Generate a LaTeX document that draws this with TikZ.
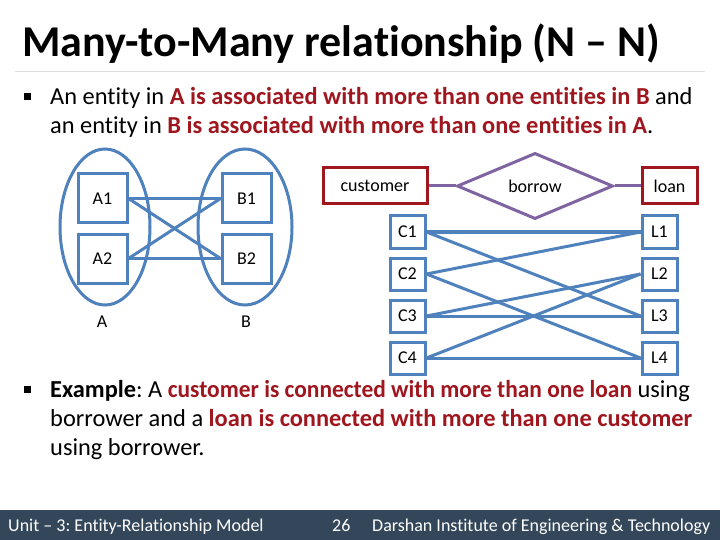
\documentclass[tikz,border=0pt]{standalone}
\usepackage{fontspec}
\setmainfont{Carlito}[RawFeature=-liga]
\usetikzlibrary{shapes.geometric}
\definecolor{eblue}{RGB}{79,129,189}
\definecolor{epurple}{RGB}{128,100,162}
\definecolor{ered}{RGB}{160,22,30}
\definecolor{footbg}{RGB}{52,71,90}
\definecolor{rulegray}{RGB}{220,220,220}
\frenchspacing
\begin{document}
\begin{tikzpicture}[x=1pt,y=-1pt,
  ebox/.style={draw=eblue,line width=3pt,inner sep=0pt,font=\fontsize{18}{21}\selectfont},
  rbox/.style={draw=ered,line width=3pt,inner sep=0pt,font=\fontsize{18}{21}\selectfont},
  eset/.style={draw=eblue,line width=3pt,ellipse,inner sep=0pt},
  link/.style={draw=eblue,line width=3pt},
  plink/.style={draw=epurple,line width=3pt},
  body/.style={anchor=base west,inner sep=0pt,font=\fontsize{24.4}{29}\selectfont},
  foot/.style={anchor=base west,inner sep=0pt,text=white,font=\fontsize{18}{21}\selectfont},
  lbl/.style={inner sep=0pt,font=\fontsize{18}{21}\selectfont}
]
\useasboundingbox (0,0) rectangle (720,540);
\fill[white] (0,0) rectangle (720,540);
% title
\node[anchor=base west,inner sep=0pt,font=\fontsize{44}{48}\selectfont\bfseries] (title) at (22,57) {Many-to-Many relationship (N -- N)};
\draw[rulegray,line width=1pt] (15,72) coordinate (r1) -- (705,72) coordinate (r2);
% bullet 1
\node[anchor=center,inner sep=0pt] (b1) at (27,97) {\rule{7pt}{7pt}};
\node[body] (t1) at (50,105) {An entity in \textcolor{ered}{\bfseries A is associated with more than one entities in B} and};
\node[body] (t2) at (50,134) {an entity in \textcolor{ered}{\bfseries B is associated with more than one entities in A}.};
% sets A and B
\node[eset,minimum width=90pt,minimum height=156pt] (setA) at (105,227) {};
\node[eset,minimum width=94pt,minimum height=156pt] (setB) at (245,227) {};
\node[ebox,minimum width=49pt,minimum height=49pt] (A1) at (102.5,198.5) {A1};
\node[ebox,minimum width=49pt,minimum height=49pt] (A2) at (102.5,258.5) {A2};
\node[ebox,minimum width=49pt,minimum height=49pt] (B1) at (246.5,198.5) {B1};
\node[ebox,minimum width=49pt,minimum height=49pt] (B2) at (246.5,258.5) {B2};
\node[lbl] (lA) at (102,322) {A};
\node[lbl] (lB) at (246,322) {B};
\draw[link] (A1.east) -- (B1.west);
\draw[link] (A1.east) -- (B2.west);
\draw[link] (A2.east) -- (B1.west);
\draw[link] (A2.east) -- (B2.west);
% E-R
\node[rbox,minimum width=104pt,minimum height=36pt] (cust) at (375,186) {customer};
\node[rbox,minimum width=55pt,minimum height=36pt] (loan) at (669.5,186) {loan};
\node[diamond,draw=epurple,line width=3pt,inner sep=0pt,minimum width=156pt,minimum height=49pt,font=\fontsize{18}{21}\selectfont] (borrow) at (535,186) {borrow};
\draw[plink] (cust.east) -- (borrow.west);
\draw[plink] (borrow.east) -- (loan.west);
% instances
\foreach \i/\yy in {1/232,2/274,3/316,4/358}{
  \node[ebox,minimum width=35pt,minimum height=32pt] (C\i) at (407.5,\yy) {C\i};
  \node[ebox,minimum width=35pt,minimum height=32pt] (L\i) at (659.5,\yy) {L\i};
}
\draw[link] (C1.east) -- (L1.west);
\draw[link] (C1.east) -- (L3.west);
\draw[link] (C2.east) -- (L1.west);
\draw[link] (C2.east) -- (L4.west);
\draw[link] (C3.east) -- (L2.west);
\draw[link] (C3.east) -- (L3.west);
\draw[link] (C4.east) -- (L2.west);
\draw[link] (C4.east) -- (L4.west);
% example bullet
\node[anchor=center,inner sep=0pt] (b2) at (27,389) {\rule{7pt}{7pt}};
\node[body] (e1) at (50,397) {\textbf{Example}: A \scalebox{0.96}[1]{\textcolor{ered}{\bfseries customer is connected with more than one loan}} using};
\node[body] (e2) at (50,426) {borrower and a \textcolor{ered}{\bfseries loan is connected with more than one customer}};
\node[body] (e3) at (50,455) {using borrower.};
% footer
\fill[footbg] (0,510) rectangle (720,540);
\node[foot] (f1) at (8,531) {Unit -- 3: Entity-Relationship Model};
\node[foot] (f2) at (332,531) {26};
\node[foot] (f3) at (372,531) {Darshan Institute of Engineering \& Technology};
\end{tikzpicture}
\end{document}
